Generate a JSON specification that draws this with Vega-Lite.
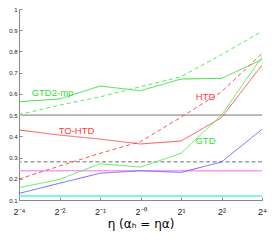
{
  "$schema": "https://vega.github.io/schema/vega-lite/v6.json",
  "autosize": "none",
  "width": 243,
  "height": 191,
  "padding": {"left": 19, "top": 9, "right": 15, "bottom": 42},
  "background": "white",
  "config": {"view": {"stroke": null}, "font": "Liberation Sans"},
  "datasets": {
    "curves": [
      {"s": "GTD2-mp", "eta": "2⁻⁴", "v": 0.563}, {"s": "GTD2-mp", "eta": "2⁻²", "v": 0.576}, {"s": "GTD2-mp", "eta": "2⁻¹", "v": 0.637}, {"s": "GTD2-mp", "eta": "2⁻⁰", "v": 0.615}, {"s": "GTD2-mp", "eta": "2¹", "v": 0.670}, {"s": "GTD2-mp", "eta": "2²", "v": 0.673}, {"s": "GTD2-mp", "eta": "2⁴", "v": 0.762},
      {"s": "GTD2", "eta": "2⁻⁴", "v": 0.502}, {"s": "GTD2", "eta": "2⁻²", "v": 0.547}, {"s": "GTD2", "eta": "2⁻¹", "v": 0.586}, {"s": "GTD2", "eta": "2⁻⁰", "v": 0.634}, {"s": "GTD2", "eta": "2¹", "v": 0.681}, {"s": "GTD2", "eta": "2²", "v": 0.785}, {"s": "GTD2", "eta": "2⁴", "v": 0.895},
      {"s": "TO-HTD", "eta": "2⁻⁴", "v": 0.430}, {"s": "TO-HTD", "eta": "2⁻²", "v": 0.406}, {"s": "TO-HTD", "eta": "2⁻¹", "v": 0.387}, {"s": "TO-HTD", "eta": "2⁻⁰", "v": 0.364}, {"s": "TO-HTD", "eta": "2¹", "v": 0.378}, {"s": "TO-HTD", "eta": "2²", "v": 0.488}, {"s": "TO-HTD", "eta": "2⁴", "v": 0.736},
      {"s": "HTD", "eta": "2⁻⁴", "v": 0.199}, {"s": "HTD", "eta": "2⁻²", "v": 0.26}, {"s": "HTD", "eta": "2⁻¹", "v": 0.32}, {"s": "HTD", "eta": "2⁻⁰", "v": 0.375}, {"s": "HTD", "eta": "2¹", "v": 0.49}, {"s": "HTD", "eta": "2²", "v": 0.61}, {"s": "HTD", "eta": "2⁴", "v": 0.79},
      {"s": "GTD", "eta": "2⁻⁴", "v": 0.158}, {"s": "GTD", "eta": "2⁻²", "v": 0.197}, {"s": "GTD", "eta": "2⁻¹", "v": 0.271}, {"s": "GTD", "eta": "2⁻⁰", "v": 0.255}, {"s": "GTD", "eta": "2¹", "v": 0.320}, {"s": "GTD", "eta": "2²", "v": 0.500}, {"s": "GTD", "eta": "2⁴", "v": 0.775},
      {"s": "TD", "eta": "2⁻⁴", "v": 0.131}, {"s": "TD", "eta": "2⁻²", "v": 0.179}, {"s": "TD", "eta": "2⁻¹", "v": 0.226}, {"s": "TD", "eta": "2⁻⁰", "v": 0.238}, {"s": "TD", "eta": "2¹", "v": 0.230}, {"s": "TD", "eta": "2²", "v": 0.279}, {"s": "TD", "eta": "2⁴", "v": 0.433}
    ],
    "refs": [
      {"r": "ref-solid", "v": 0.5},
      {"r": "ref-dashed", "v": 0.28},
      {"r": "ref-magenta", "v": 0.238},
      {"r": "ref-cyan", "v": 0.119}
    ],
    "labels": [
      {"t": "GTD2-mp", "eta": "2⁻²", "v": 0.603},
      {"t": "TO-HTD", "eta": "2⁻²", "v": 0.425},
      {"t": "HTD", "eta": "2²", "v": 0.584},
      {"t": "GTD", "eta": "2²", "v": 0.378}
    ]
  },
  "resolve": {"scale": {"color": "independent", "strokeDash": "independent", "strokeWidth": "independent"}},
  "encoding": {
    "y": {"field": "v", "type": "quantitative", "scale": {"domain": [0.1, 1], "nice": false},
      "axis": {"title": null, "values": [0.1, 0.2, 0.3, 0.4, 0.5, 0.6, 0.7, 0.8, 0.9, 1], "format": ".1~f", "labelOverlap": false, "labelFontSize": 6, "labelColor": "#222", "labelPadding": 5, "tickSize": -3, "tickColor": "#888", "domainColor": "#888", "grid": false}}
  },
  "layer": [
    {
      "data": {"name": "refs"},
      "mark": {"type": "rule"},
      "encoding": {
        "color": {"field": "r", "type": "nominal", "legend": null,
          "scale": {"domain": ["ref-solid", "ref-dashed", "ref-magenta", "ref-cyan"], "range": ["#b0b0b0", "#a0a0a0", "#ff99ff", "#55eeee"]}},
        "strokeDash": {"field": "r", "type": "nominal", "legend": null,
          "scale": {"domain": ["ref-solid", "ref-dashed", "ref-magenta", "ref-cyan"], "range": [[1, 0], [4, 2.5], [1, 0], [1, 0]]}},
        "strokeWidth": {"field": "r", "type": "nominal", "legend": null,
          "scale": {"domain": ["ref-solid", "ref-dashed", "ref-magenta", "ref-cyan"], "range": [1.6, 1.4, 2.2, 1.4]}}
      }
    },
    {
      "data": {"name": "curves"},
      "mark": {"type": "line", "strokeWidth": 1},
      "encoding": {
        "x": {"field": "eta", "type": "ordinal", "scale": {"type": "point", "padding": 0, "domain": ["2⁻⁴", "2⁻²", "2⁻¹", "2⁻⁰", "2¹", "2²", "2⁴"]},
          "axis": {"title": "η (αₕ = ηα)", "titleFont": "DejaVu Sans", "titleFontSize": 12, "titleFontWeight": "normal", "titleColor": "black", "titlePadding": 2,
            "labelAngle": 0, "labelFontSize": 9, "labelColor": "#222", "labelPadding": 10, "labelOverlap": false, "tickSize": -3, "tickColor": "#888", "domainColor": "#888", "grid": false}},
        "color": {"field": "s", "type": "nominal", "legend": null,
          "scale": {"domain": ["GTD2-mp", "GTD2", "TO-HTD", "HTD", "GTD", "TD"], "range": ["#44e044", "#55ee55", "#ff5050", "#ff5050", "#55ee55", "#6666ff"]}},
        "strokeDash": {"field": "s", "type": "nominal", "legend": null,
          "scale": {"domain": ["GTD2-mp", "GTD2", "TO-HTD", "HTD", "GTD", "TD"], "range": [[1, 0], [4, 3], [1, 0], [4, 3], [1, 0], [1, 0]]}}
      }
    },
    {
      "data": {"name": "labels"},
      "transform": [{"filter": "datum.t == 'GTD2-mp'"}],
      "mark": {"type": "text", "fontSize": 9.5, "font": "Liberation Sans", "dx": -7, "color": "#33dd33"},
      "encoding": {
        "x": {"field": "eta", "type": "ordinal", "scale": {"type": "point", "padding": 0, "domain": ["2⁻⁴", "2⁻²", "2⁻¹", "2⁻⁰", "2¹", "2²", "2⁴"]}},
        "text": {"field": "t"}
      }
    },
    {
      "data": {"name": "labels"},
      "transform": [{"filter": "datum.t == 'TO-HTD'"}],
      "mark": {"type": "text", "fontSize": 9.5, "font": "Liberation Sans", "dx": 17, "color": "#ff4040"},
      "encoding": {
        "x": {"field": "eta", "type": "ordinal", "scale": {"type": "point", "padding": 0, "domain": ["2⁻⁴", "2⁻²", "2⁻¹", "2⁻⁰", "2¹", "2²", "2⁴"]}},
        "text": {"field": "t"}
      }
    },
    {
      "data": {"name": "labels"},
      "transform": [{"filter": "datum.t == 'HTD'"}],
      "mark": {"type": "text", "fontSize": 9.5, "font": "Liberation Sans", "dx": -16, "color": "#ff4040"},
      "encoding": {
        "x": {"field": "eta", "type": "ordinal", "scale": {"type": "point", "padding": 0, "domain": ["2⁻⁴", "2⁻²", "2⁻¹", "2⁻⁰", "2¹", "2²", "2⁴"]}},
        "text": {"field": "t"}
      }
    },
    {
      "data": {"name": "labels"},
      "transform": [{"filter": "datum.t == 'GTD'"}],
      "mark": {"type": "text", "fontSize": 9.5, "font": "Liberation Sans", "dx": -16, "color": "#33dd33"},
      "encoding": {
        "x": {"field": "eta", "type": "ordinal", "scale": {"type": "point", "padding": 0, "domain": ["2⁻⁴", "2⁻²", "2⁻¹", "2⁻⁰", "2¹", "2²", "2⁴"]}},
        "text": {"field": "t"}
      }
    }
  ]
}
